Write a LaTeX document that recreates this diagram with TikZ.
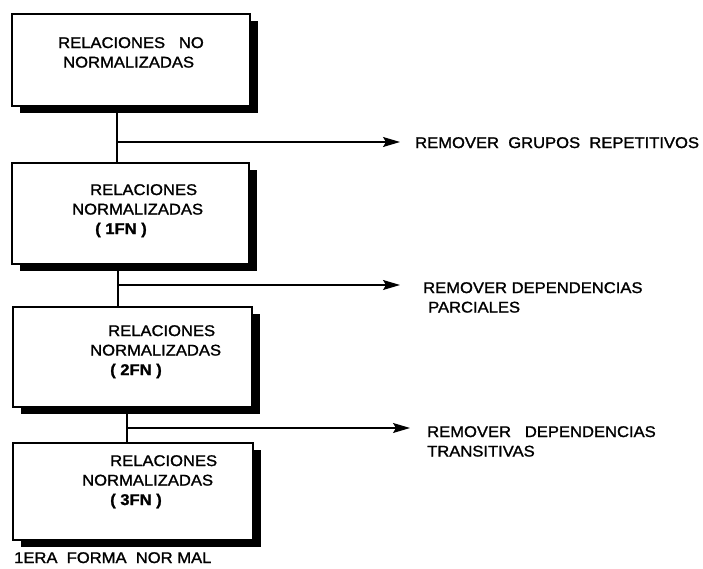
\documentclass[tikz,border=0pt]{standalone}
\usepackage{fontspec}
\setmainfont[FakeStretch=1.07, FakeBold=1.3]{Liberation Sans}
\usetikzlibrary{arrows.meta,shadows}
\begin{document}
\begin{tikzpicture}[x=1pt,y=-1pt,
  font=\fontsize{15.5}{19.5}\selectfont,
  stage/.style={draw, line width=1.4pt, fill=white, inner sep=0pt,
    drop shadow={shadow xshift=8pt, shadow yshift=-7pt, fill=black, opacity=1}},
  txt/.style={anchor=north west, inner sep=0pt, align=left},
  link/.style={line width=1.8pt},
  flow/.style={line width=1.2pt, -{Stealth[length=17pt,width=10pt,inset=3pt]}}]
\useasboundingbox[fill=white] (0,0) rectangle (703,569);

% stage boxes
\node[stage, minimum width=238pt, minimum height=92pt]  (b1) at (131,60)    {};
\node[stage, minimum width=237pt, minimum height=101pt] (b2) at (130.5,213.5) {};
\node[stage, minimum width=239pt, minimum height=100pt] (b3) at (132.5,357) {};
\node[stage, minimum width=240pt, minimum height=97pt]  (b4) at (133,491.5) {};

% box texts
\node[txt] (l1) at (58,37)  {RELACIONES\ \ \ NO\\\hspace*{5pt}NORMALIZADAS};
\node[txt] (l2) at (72,184) {\hspace*{18pt}RELACIONES\\NORMALIZADAS\\\hspace*{23pt}\textbf{( 1FN )}};
\node[txt] (l3) at (90,325) {\hspace*{18pt}RELACIONES\\NORMALIZADAS\\\hspace*{20pt}\textbf{( 2FN )}};
\node[txt] (l4) at (82,455) {\hspace*{28pt}RELACIONES\\NORMALIZADAS\\\hspace*{28pt}\textbf{( 3FN )}};

% side notes
\node[txt] (t1) at (415,137) {REMOVER\ \ GRUPOS\ \ REPETITIVOS};
\node[txt] (t2) at (423,282) {REMOVER DEPENDENCIAS\\\hspace*{5pt}PARCIALES};
\node[txt] (t3) at (427,426) {REMOVER\ \ \ DEPENDENCIAS\\TRANSITIVAS};

\node[txt] (cap) at (14,552) {1ERA\ \ FORMA\ \ NOR MAL};

% junction points and arrow ends
\coordinate (j1) at (117,142);
\coordinate (j2) at (118,285);
\coordinate (j3) at (127,428);
\coordinate (e1) at (400,142);
\coordinate (e2) at (400,285);
\coordinate (e3) at (410,428);

% connectors
\draw[link] (b1.south -| j1) -- (b2.north -| j1);
\draw[link] (b2.south -| j2) -- (b3.north -| j2);
\draw[link] (b3.south -| j3) -- (b4.north -| j3);
\draw[flow] (j1) -- (e1);
\draw[flow] (j2) -- (e2);
\draw[flow] (j3) -- (e3);
\end{tikzpicture}
\end{document}
